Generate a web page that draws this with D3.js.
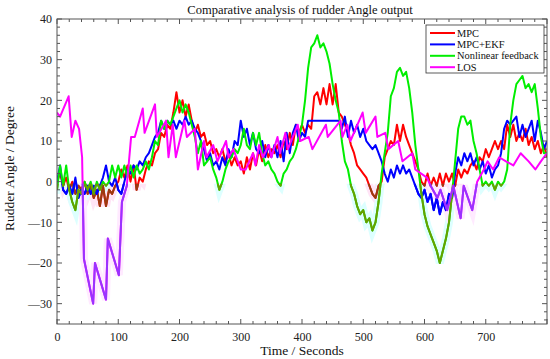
<!DOCTYPE html>
<html><head><meta charset="utf-8">
<script src="https://cdn.jsdelivr.net/npm/d3@7"></script>
<style>body{margin:0;background:#fff}svg{display:block}text{font-family:"Liberation Serif","Times New Roman",serif}</style>
</head><body><svg id="c" width="550" height="359"></svg>
<script>
const timeSec = d3.range(0, 805, 5);
const seriesNames = ["MPC", "MPC+EKF", "Nonlinear feedback", "LOS"];
const mpc = [0,2,-1,1,-2,0,-3,-1,-2,0,-3,-1,-4,-2,-6,-1,-6,-2,-3,-1,
  0,3,1,4,0,4,-2,1,0,3,5,4,7,8,12,11,14,13,17,22,
  17,20,16,19,15,12,14,11,12,9,10,7,8,6,8,5,7,4,6,4,
  5,2,6,3,7,4,8,5,9,6,8,7,9,6,10,8,12,9,14,12,
  14,12,14,13,21,22,19,23,19,24,19,24,17,16,14,12,9,7,4,3,
  2,1,-1,-3,-4,-1,0,6,8,10,9,14,10,14,11,9,7,5,3,0,
  -1,2,-1,1,-1,2,-1,2,0,2,-1,3,1,3,2,4,5,3,6,5,
  8,6,8,10,8,10,8,14,11,14,10,12,10,13,9,11,8,10,7,9,6];
const mpcEkf = [0,4,-2,-3,-1,-3,1,-4,-2,-3,-1,-3,-1,-3,-1,1,4,0,-1,1,
  -2,-3,0,3,2,4,3,5,4,6,7,9,11,12,15,13,15,14,15,13,
  15,14,16,14,15,13,12,10,8,5,7,4,5,3,6,4,8,6,10,9,
  15,11,13,9,12,8,7,10,6,9,6,9,6,10,5,12,7,12,14,10,
  12,11,15,15,15,15,15,15,15,15,15,15,15,13,16,11,15,12,14,11,
  13,10,9,8,9,7,5,2,0,3,1,4,2,4,2,3,1,-1,-3,-4,
  -2,-5,-3,-7,-4,-8,-5,-7,-3,-4,2,6,4,7,5,7,4,6,3,5,
  2,4,1,3,4,7,13,15,14,15,16,11,14,11,13,15,10,15,12,8,10];
const nonlinear = [-2,4,-1,4,-2,-5,-7,-2,-3,0,-2,0,-3,0,-2,0,-1,0,4,1,
  4,1,4,1,4,1,4,2,3,5,3,6,10,9,15,13,15,14,16,18,
  20,17,19,17,14,11,7,10,4,5,6,3,1,-2,0,3,5,6,8,7,
  9,13,9,8,12,9,12,7,4,5,3,2,0,-1,2,3,5,6,8,11,
  14,20,28,33,34,36,33,34,32,29,24,20,17,10,5,3,-1,-3,-6,-8,
  -7,-10,-9,-12,-10,-5,2,7,12,21,23,27,28,26,27,23,17,9,3,-3,
  -8,-11,-13,-15,-17,-20,-17,-14,-10,-3,5,13,16,16,14,15,10,7,3,-1,
  0,-1,0,-2,0,-1,0,3,14,20,24,25,26,23,24,22,24,18,11,7,7];
const losTime = [0,5,19,24,30,36,41,44,59,62,80,83,101,106,114,121,127,140,143,160,
  163,178,182,189,194,208,212,225,230,240,244,255,262,276,280,288,300,308,320,324,
  330,336,346,350,360,364,373,377,393,397,411,417,439,442,463,466,474,479,499,504,
  520,523,536,541,557,564,580,585,604,610,621,626,637,647,659,664,678,686,697,703,
  712,722,733,745,757,770,781,790,800];
const losValue = [17,16,21,11,15,13,6,-19,-30,-20,-29,-14,-23,-5,-1,11,11,18,12,19,
  11,15,6,14,6,15,11,13,3,10,6,9,5,10,6,8,3,3,7,4,
  9,6,9,6,11,7,12,8,14,10,11,8,14,11,15,11,14,10,17,12,
  16,11,12,8,10,5,7,3,1,-1,-4,-2,-7,-1,-9,-1,-7,0,3,5,
  3,6,5,4,7,5,3,5,7];
const xTicks = [0,100,200,300,400,500,600,700];
const yTicks = [40,30,20,10,0,-10,-20,-30];

const svg = d3.select("#c");
const L = 57, R = 547, T = 19, B = 324;
const x = d3.scaleLinear().domain([0, 800]).range([L, R]);
const y = d3.scaleLinear().domain([-35, 40]).range([B, T]);

const series = [
  {name: seriesNames[0], t: timeSec, v: mpc, color: "#ff0000", low: "#9a3a10", halo: "#ffe4f6"},
  {name: seriesNames[1], t: timeSec, v: mpcEkf, color: "#0000ff", low: "#0000ff", halo: null},
  {name: seriesNames[2], t: timeSec, v: nonlinear, color: "#00ee00", low: "#66a000", halo: "#ddffff"},
  {name: seriesNames[3], t: losTime, v: losValue, color: "#ff00ff", low: "#9933ff", halo: "#ffeaff"}
];

const defs = svg.append("defs");
defs.append("clipPath").attr("id", "plot").append("rect").attr("x", L).attr("y", T).attr("width", R - L).attr("height", B - T);
defs.append("clipPath").attr("id", "low").append("rect").attr("x", L).attr("y", y(-0.5)).attr("width", R - L).attr("height", B - y(-0.5));

const line = d3.line().x(d => x(d[0])).y(d => y(d[1]));
const g = svg.append("g").attr("clip-path", "url(#plot)");
const gHalo = g.append("g").attr("clip-path", "url(#low)");
series.forEach(s => {
  if (!s.halo) return;
  const pts = s.t.map((t, i) => [t, s.v[i]]);
  gHalo.append("path").attr("d", line(pts)).attr("fill", "none").attr("stroke", s.halo)
    .attr("stroke-width", 8).attr("stroke-linejoin", "miter").attr("stroke-linecap", "square");
});
series.forEach(s => {
  const pts = s.t.map((t, i) => [t, s.v[i]]);
  g.append("path").attr("d", line(pts)).attr("fill", "none").attr("stroke", s.color)
    .attr("stroke-width", 2).attr("stroke-linejoin", "round");
  g.append("path").attr("clip-path", "url(#low)").attr("d", line(pts)).attr("fill", "none").attr("stroke", s.low)
    .attr("stroke-width", 2).attr("stroke-linejoin", "round");
});

// frame and ticks
const axisColor = "#555";
svg.append("rect").attr("x", L).attr("y", T).attr("width", R - L).attr("height", B - T)
  .attr("fill", "none").attr("stroke", axisColor).attr("stroke-width", 1);
const xMinor = d3.range(0, 801, 20);
const yMinor = d3.range(-34, 41, 2);
const tk = svg.append("g").attr("stroke", axisColor).attr("stroke-width", 1);
xMinor.forEach(v => {
  const major = v % 100 === 0;
  const len = major ? 5 : 3;
  tk.append("line").attr("x1", x(v)).attr("x2", x(v)).attr("y1", B).attr("y2", B - len);
  tk.append("line").attr("x1", x(v)).attr("x2", x(v)).attr("y1", T).attr("y2", T + len);
});
yMinor.forEach(v => {
  const major = v % 10 === 0;
  const len = major ? 5 : 3;
  tk.append("line").attr("y1", y(v)).attr("y2", y(v)).attr("x1", L).attr("x2", L + len);
  tk.append("line").attr("y1", y(v)).attr("y2", y(v)).attr("x1", R).attr("x2", R - len);
});

const xAxis = d3.axisBottom(x).tickValues(xTicks).tickSize(0).tickPadding(8).tickFormat(d3.format("d"));
const ax = svg.append("g").attr("transform", `translate(0,${B})`).call(xAxis);
ax.select(".domain").remove();
ax.selectAll("text").attr("font-size", 12).attr("fill", "#222").attr("font-family", "Liberation Serif");
const yAxis = d3.axisLeft(y).tickValues(yTicks).tickSize(0).tickPadding(5)
  .tickFormat(d => d < 0 ? "\u2014" + Math.abs(d) : String(d));
const ay = svg.append("g").attr("transform", `translate(${L},0)`).call(yAxis);
ay.select(".domain").remove();
ay.selectAll("text").attr("font-size", 12).attr("fill", "#222").attr("font-family", "Liberation Serif");

svg.append("text").attr("x", 300).attr("y", 14).attr("text-anchor", "middle")
  .attr("font-size", 12.5).attr("fill", "#111").text("Comparative analysis of rudder Angle output");
svg.append("text").attr("x", 302).attr("y", 355).attr("text-anchor", "middle")
  .attr("font-size", 13.5).attr("fill", "#111").text("Time / Seconds");
svg.append("text").attr("transform", `translate(14,${(T + B) / 2 - 3}) rotate(-90)`).attr("text-anchor", "middle")
  .attr("font-size", 13.5).attr("fill", "#111").text("Rudder Angle / Degree");

// legend
const lg = svg.append("g").attr("transform", "translate(426,25)");
lg.append("rect").attr("width", 118).attr("height", 48).attr("fill", "#fff").attr("stroke", "#333").attr("stroke-width", 0.8);
series.forEach((s, i) => {
  const yy = 8 + i * 11.4;
  lg.append("line").attr("x1", 4).attr("x2", 29).attr("y1", yy).attr("y2", yy).attr("stroke", s.color).attr("stroke-width", 2);
  lg.append("text").attr("x", 31).attr("y", yy + 3.6).attr("font-size", 10.4).attr("fill", "#111").text(s.name);
});
</script></body></html>
